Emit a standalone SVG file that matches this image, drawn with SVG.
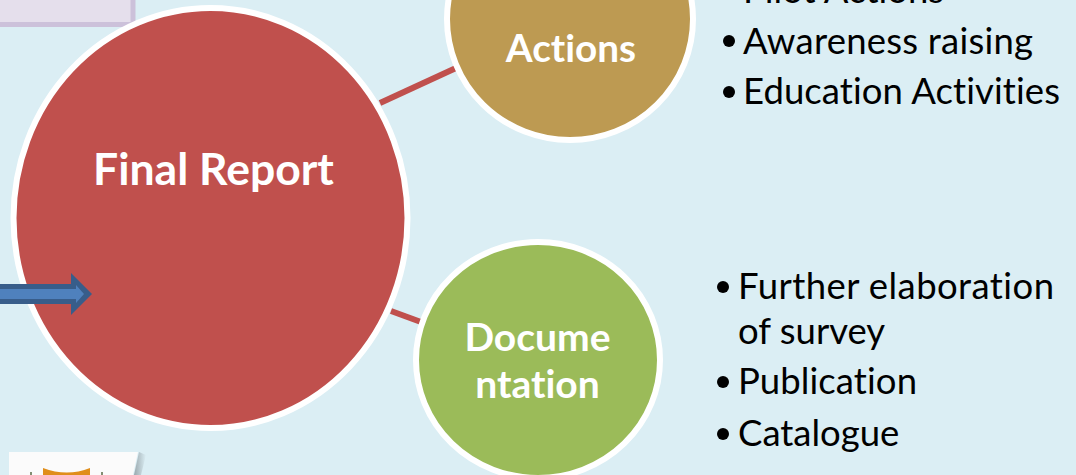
<svg xmlns="http://www.w3.org/2000/svg" width="1076" height="475" viewBox="0 0 1076 475">
<defs>
<linearGradient id="logoShadow" x1="0" y1="0" x2="1" y2="0"><stop offset="0" stop-color="#7f8a8f" stop-opacity="0.7"/><stop offset="1" stop-color="#7f8a8f" stop-opacity="0"/></linearGradient>
</defs>
<style>
.n{stroke:#fff;stroke-width:6}
text{font-variant-ligatures:none}
.w{font-family:"Lato","Open Sans","Liberation Sans",sans-serif;font-weight:700;fill:#fff;text-anchor:middle}
.b{font-family:"Lato","Open Sans","Liberation Sans",sans-serif;font-size:36.5px;fill:#000}
.c{stroke:#c0504d;stroke-width:6;fill:none}
</style>
<rect width="1076" height="475" fill="#dbeef4"/>
<g id="note"><rect x="-10" y="-10" width="143" height="34.5" fill="#e5dfec" stroke="#ccc1da" stroke-width="5"/></g>
<g id="connectors"><line class="c" x1="380" y1="103" x2="456" y2="68"/><line class="c" x1="391" y1="311" x2="421" y2="322"/></g>
<g id="final-report"><ellipse class="n" cx="210.500" cy="218" rx="197" ry="210" fill="#c0504d"/><text class="w" x="213.500" y="185" font-size="44.5">Final Report</text></g>
<g id="arrow"><polygon points="-5,284 71,284 71,273 92,294 71,315 71,304 -5,304" fill="#385d8a"/><polygon points="-5,289 76,289 76,285 84,294 76,303 76,299 -5,299" fill="#4f81bd"/></g>
<g id="actions"><ellipse class="n" cx="570" cy="19" rx="123" ry="121" fill="#bd9a52"/><text class="w" x="571" y="62" font-size="38.7">Actions</text></g>
<g id="documentation"><ellipse class="n" cx="538" cy="360" rx="122" ry="118" fill="#9bbb59"/><text class="w" x="537.500" y="351" font-size="39">Docume</text><text class="w" x="537.500" y="398" font-size="39">ntation</text></g>
<g id="actions-list">
<text class="b" x="743" y="3">Pilot Actions</text>
<circle cx="729" cy="41" r="6"/><text class="b" x="743" y="54" textLength="290">Awareness raising</text>
<circle cx="729" cy="92" r="6"/><text class="b" x="743" y="104" textLength="317">Education Activities</text>
</g>
<g id="doc-list">
<circle cx="723" cy="287" r="6"/><text class="b" x="738" y="299" textLength="316">Further elaboration</text>
<text class="b" x="738" y="344">of survey</text>
<circle cx="723" cy="382" r="6"/><text class="b" x="738" y="394" textLength="179">Publication</text>
<circle cx="723" cy="434" r="6"/><text class="b" x="738" y="446">Catalogue</text>
</g>
<g id="logo"><polygon points="139,452 146,455 141,475 134,475" fill="url(#logoShadow)"/><polygon points="9,452 138,452 133,475 9,475" fill="#fbfbfb"/><path d="M43,468 Q67,477 90,468 L90,475 L43,475Z" fill="#e08e1b"/><path d="M31,472V475M102,472V475" stroke="#5b6b45" stroke-width="1.5"/></g>
</svg>
